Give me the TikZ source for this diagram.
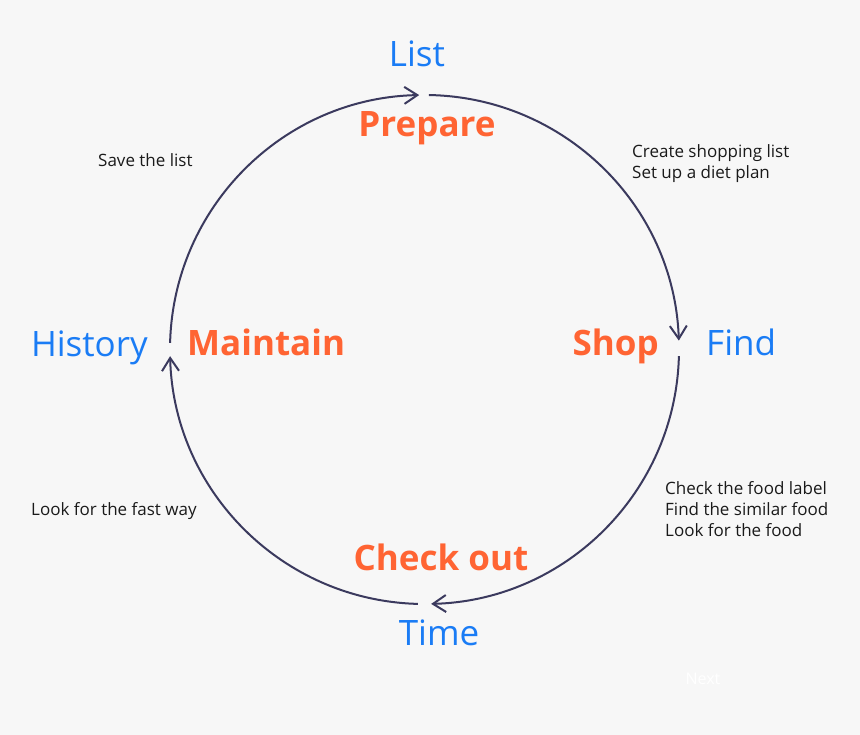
\documentclass[tikz,border=0pt]{standalone}
\usepackage{fontspec}
\setmainfont{Open Sans}
\usetikzlibrary{arrows.meta}
\definecolor{bgray}{HTML}{F7F7F7}
\definecolor{tagblue}{HTML}{1A7CF5}
\definecolor{stageorange}{HTML}{FF6433}
\definecolor{ringnavy}{HTML}{3B3A5E}
\definecolor{notegray}{HTML}{1A1A1A}
\tikzset{
  lab/.style={text=tagblue, inner sep=0pt, font=\fontsize{35}{40}\selectfont},
  stage/.style={text=stageorange, inner sep=0pt, font=\fontsize{35}{40}\selectfont\bfseries},
  note/.style={text=notegray, inner sep=0pt, align=left, font=\fontsize{17}{21}\selectfont},
  loopline/.style={draw=ringnavy, line width=2pt, -{Straight Barb[length=13pt,width=17pt,line width=2pt]}}
}
\begin{document}
\begin{tikzpicture}[x=1pt,y=1pt]
  \fill[bgray] (0,0) rectangle (860,-735);
  \useasboundingbox (0,0) rectangle (860,-735);
  % ring
  \coordinate (o) at (424.5,-349.5);
  \draw[loopline] ([shift={(89:254.5)}]o) arc[start angle=89,end angle=2,radius=254.5];
  \draw[loopline] ([shift={(-1.5:254.5)}]o) arc[start angle=-1.5,end angle=-88.5,radius=254.5];
  \draw[loopline] ([shift={(-91.5:254.5)}]o) arc[start angle=-91.5,end angle=-178.5,radius=254.5];
  \draw[loopline] ([shift={(178.5:254.5)}]o) arc[start angle=178.5,end angle=91.2,radius=254.5];
  % top
  \node[lab, anchor=base] (list) at (417,-67) {List};
  \node[stage, anchor=base] (prepare) at (427,-137) {Prepare};
  \node[note, anchor=base west] (prepnote) at (632,-179) {Create shopping list\\Set up a diet plan};
  % right
  \node[stage, anchor=base east] (shop) at (659,-356) {Shop};
  \node[lab, anchor=base west] (find) at (706,-356) {Find};
  \node[note, anchor=base west] (shopnote) at (665,-536) {Check the food label\\Find the similar food\\Look for the food};
  % bottom
  \node[stage, anchor=base] (checkout) at (441,-570) {Check out};
  \node[lab, anchor=base] (time) at (439,-645) {Time};
  \node[note, anchor=base west] (checknote) at (31,-515) {Look for the fast way};
  % left
  \node[lab, anchor=base east] (history) at (148,-357) {History};
  \node[stage, anchor=base west] (maintain) at (187,-356) {Maintain};
  \node[note, anchor=base west] (savenote) at (98,-167) {Save the list};
  \node[text=white, inner sep=0pt, font=\fontsize{16}{19}\selectfont] (next) at (703,-679) {Next};
\end{tikzpicture}
\end{document}
